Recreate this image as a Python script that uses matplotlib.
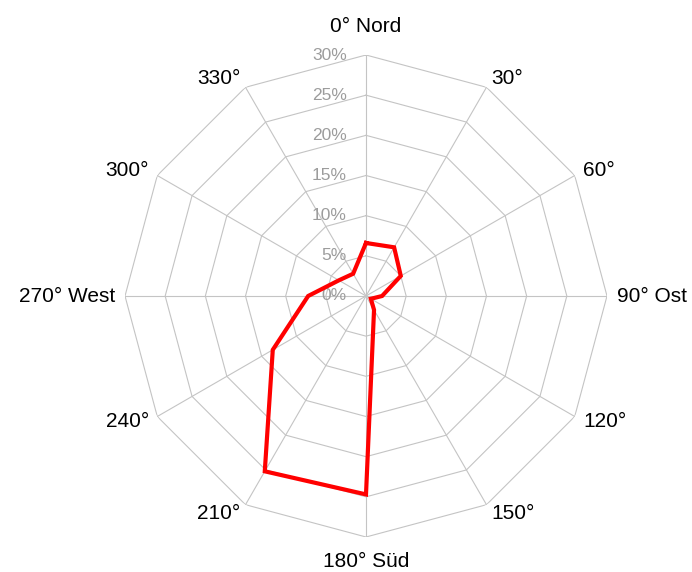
import numpy as np
import matplotlib
matplotlib.use('Agg')
import matplotlib.pyplot as plt

# Windrichtungen (Grad) und Häufigkeit (%)
richtungen = [0, 30, 60, 90, 120, 150, 180, 210, 240, 270, 300, 330]
haeufigkeit = [6.6, 7.0, 5.0, 2.0, 0.7, 2.0, 24.7, 25.2, 13.4, 7.2, 3.9, 3.2]
beschriftung = ['0° Nord', '30°', '60°', '90° Ost', '120°', '150°',
                '180° Süd', '210°', '240°', '270° West', '300°', '330°']
ringe = [0, 5, 10, 15, 20, 25, 30]
ring_labels = ['0%', '5%', '10%', '15%', '20%', '25%', '30%']

plt.rcParams['font.family'] = ['Liberation Sans', 'DejaVu Sans']

fig = plt.figure(figsize=(6.92, 5.72), dpi=100, facecolor='white')
ax = fig.add_axes([125/692, 35/572, 482/692, 482/572], projection='polar')
ax.set_theta_zero_location('N')
ax.set_theta_direction(-1)
ax.set_ylim(0, 30)
ax.grid(False)
ax.set_xticks([])
ax.set_yticks([])
ax.spines['polar'].set_visible(False)

theta = np.deg2rad(richtungen)
theta_zu = np.append(theta, theta[0])
GRID = '#c4c4c4'

# Polygon-Gitter
for r in ringe[1:]:
    ax.plot(theta_zu, [r] * len(theta_zu), color=GRID, lw=0.8, zorder=1)
for t in theta:
    ax.plot([t, t], [0, ringe[-1]], color=GRID, lw=0.8, zorder=1)

# Ring-Beschriftung
for r, lab in zip(ringe, ring_labels):
    ax.annotate(lab, xy=(0, r), xytext=(-13.7, 0), textcoords='offset points',
                ha='right', va='center', fontsize=12.5, color='#9c9c9c', zorder=2)

# Richtungs-Beschriftung
for t, grad, lab in zip(theta, richtungen, beschriftung):
    if grad == 0:
        ax.text(t, 33.6, lab, ha='center', va='center', fontsize=15)
    elif grad == 180:
        ax.text(t, 33.0, lab, ha='center', va='center', fontsize=15)
    elif grad < 180:
        ax.text(t, 31.2, lab, ha='left', va='center', fontsize=15)
    else:
        ax.text(t, 31.2, lab, ha='right', va='center', fontsize=15)

# Datenlinie
werte_zu = np.append(haeufigkeit, haeufigkeit[0])
ax.plot(theta_zu, werte_zu, color='#ff0000', lw=3.0, zorder=3,
        solid_joinstyle='miter')

fig.savefig('out.png', dpi=100, facecolor='white')
